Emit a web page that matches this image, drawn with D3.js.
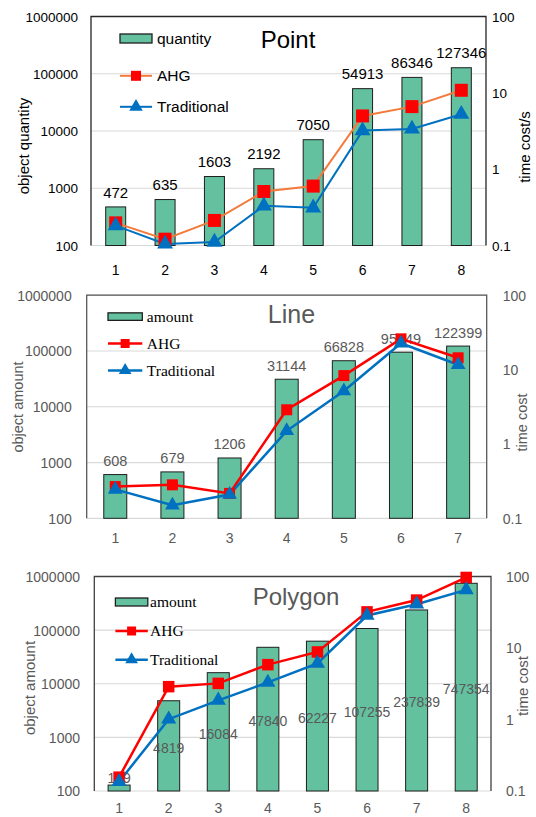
<!DOCTYPE html>
<html><head><meta charset="utf-8">
<script src="https://cdn.jsdelivr.net/npm/d3@7"></script>
<style>body{margin:0;background:#fff} svg{display:block}</style>
</head><body>
<svg id="c" width="536" height="817"></svg>
<script>
// ---- data ----
const pointCategories = ["1","2","3","4","5","6","7","8"];
const pointQuantity = [472,635,1603,2192,7050,54913,86346,127346];
const pointAHG = [0.198,0.121,0.213,0.51,0.6,4.98,6.6,10.8];
const pointTraditional = [0.182,0.105,0.111,0.331,0.312,3.2,3.36,5.25];

const lineCategories = ["1","2","3","4","5","6","7"];
const lineAmount = [608,679,1206,31144,66828,95049,122399];
const lineAHG = [0.267,0.282,0.216,2.88,8.3,25.9,14.4];
const lineTraditional = [0.245,0.15,0.209,1.5,5.15,22.6,11.6];

const polygonCategories = ["1","2","3","4","5","6","7","8"];
const polygonAmount = [129,4819,16084,47840,62227,107255,237839,747354];
const polygonAHG = [0.156,2.88,3.2,5.85,8.8,32,46.8,97];
const polygonTraditional = [0.135,1.01,1.85,3.3,6.1,28.5,41,65];

const leftTicks = [100,1000,10000,100000,1000000];
const rightTicks = [0.1,1,10,100];

const SANS = "'Liberation Sans', Arial, sans-serif";
const SERIF = "'Liberation Serif', 'Times New Roman', serif";
const BAR_FILL = "#63c19f", BAR_STROKE = "#1e1e1e";
const RED = "#ff0000", BLUE = "#0070c0";

const svg = d3.select("#c");

function panel(cfg) {
  const g = svg.append("g");
  const x = d3.scaleBand().domain(cfg.categories).range([cfg.left, cfg.right]);
  const yL = d3.scaleLog().domain([100, 1000000]).range([cfg.bottom, cfg.top]);
  const yR = d3.scaleLog().domain([0.1, 100]).range([cfg.bottom, cfg.top]);
  const cx = d => x(d) + x.bandwidth() / 2;

  // gridlines
  g.selectAll(".grid").data(leftTicks).join("line")
    .attr("x1", cfg.left).attr("x2", cfg.right)
    .attr("y1", d => yL(d)).attr("y2", d => yL(d))
    .attr("stroke", "#d9d9d9").attr("stroke-width", 1.2);
  // frame (left, top, right)
  g.append("path")
    .attr("d", `M${cfg.left},${cfg.bottom}V${cfg.top}H${cfg.right}V${cfg.bottom}`)
    .attr("fill", "none").attr("stroke", cfg.frame).attr("stroke-width", 1.3);

  // left axis labels
  const axL = d3.axisLeft(yL).tickValues(leftTicks).tickFormat(d3.format("d")).tickSize(0).tickPadding(0);
  const gl = g.append("g").attr("transform", `translate(${cfg.leftLabelX},0)`).call(axL);
  gl.select(".domain").remove();
  gl.selectAll("text").attr("fill", cfg.color).style("font", `${cfg.tickSize}px ${SANS}`).attr("dy", "0.35em");

  // right axis labels
  const axR = d3.axisRight(yR).tickValues(rightTicks).tickFormat(d => String(d)).tickSize(0).tickPadding(0);
  const gr = g.append("g").attr("transform", `translate(${cfg.rightLabelX},0)`).call(axR);
  gr.select(".domain").remove();
  gr.selectAll("text").attr("fill", cfg.color).style("font", `${cfg.tickSize}px ${SANS}`).attr("dy", "0.35em");

  // x labels
  const axX = d3.axisBottom(x).tickSize(0).tickPadding(0);
  const gx = g.append("g").attr("transform", `translate(0,${cfg.xLabelY})`).call(axX);
  gx.select(".domain").remove();
  gx.selectAll("text").attr("fill", cfg.color).style("font", `${cfg.xSize}px ${SANS}`).attr("dy", "0.35em");

  // axis titles
  g.append("text").text(cfg.leftTitle)
    .attr("transform", `translate(${cfg.leftTitleX},${cfg.leftTitleY}) rotate(-90)`)
    .attr("text-anchor", "middle").attr("dy", "0.35em")
    .attr("fill", cfg.color).style("font", `${cfg.titleAxisSize}px ${SANS}`);
  g.append("text").text(cfg.rightTitle)
    .attr("transform", `translate(${cfg.rightTitleX},${cfg.rightTitleY}) rotate(-90)`)
    .attr("text-anchor", "middle").attr("dy", "0.35em")
    .attr("fill", cfg.color).style("font", `${cfg.titleAxisSize}px ${SANS}`);

  // bars
  g.selectAll(".bar").data(cfg.bars).join("rect")
    .attr("x", (d, i) => cx(cfg.categories[i]) - cfg.barW / 2)
    .attr("width", cfg.barW)
    .attr("y", d => yL(d)).attr("height", d => cfg.bottom - yL(d))
    .attr("fill", BAR_FILL).attr("stroke", BAR_STROKE).attr("stroke-width", 1);

  // data labels
  g.selectAll(".lab").data(cfg.bars).join("text")
    .text(d => d)
    .attr("x", (d, i) => cx(cfg.categories[i]))
    .attr("y", d => cfg.labelMode === "above"
      ? yL(d) - cfg.labelGap
      : Math.min((yL(d) + yL(100)) / 2 + 2, cfg.bottom - 13))
    .attr("text-anchor", "middle").attr("dy", "0.35em")
    .attr("fill", cfg.color).style("font", `${cfg.labelSize}px ${SANS}`);

  // lines
  const lineGen = d3.line().x((d, i) => cx(cfg.categories[i])).y(d => yR(d));
  g.append("path").attr("d", lineGen(cfg.ahg)).attr("fill", "none")
    .attr("stroke", cfg.ahgLine).attr("stroke-width", cfg.lineW);
  g.append("path").attr("d", lineGen(cfg.trad)).attr("fill", "none")
    .attr("stroke", BLUE).attr("stroke-width", cfg.lineW);

  const sq = d3.symbol().type(d3.symbolSquare).size(cfg.sq * cfg.sq);
  const tri = d3.symbol().type(d3.symbolTriangle).size(cfg.tri);
  g.selectAll(".m1").data(cfg.ahg).join("path")
    .attr("d", sq).attr("fill", RED)
    .attr("transform", (d, i) => `translate(${cx(cfg.categories[i])},${yR(d)})`);
  g.selectAll(".m2").data(cfg.trad).join("path")
    .attr("d", tri).attr("fill", BLUE)
    .attr("transform", (d, i) => `translate(${cx(cfg.categories[i])},${yR(d)})`);

  // title
  g.append("text").text(cfg.title).attr("x", cfg.titleX).attr("y", cfg.titleY)
    .attr("text-anchor", "middle").attr("dy", "0.35em")
    .attr("fill", cfg.color).style("font", `${cfg.titleSize}px ${SANS}`);

  // legend
  const L = cfg.legend;
  g.append("rect").attr("x", L.x0).attr("y", L.rows[0] - L.swH / 2)
    .attr("width", L.x1 - L.x0).attr("height", L.swH)
    .attr("fill", BAR_FILL).attr("stroke", BAR_STROKE).attr("stroke-width", 1.3);
  [[cfg.ahgLine, RED, "sq"], [BLUE, BLUE, "tri"]].forEach((s, k) => {
    const yy = L.rows[k + 1];
    g.append("line").attr("x1", L.x0).attr("x2", L.x1).attr("y1", yy).attr("y2", yy)
      .attr("stroke", s[0]).attr("stroke-width", cfg.lineW);
    const sym = s[2] === "sq" ? d3.symbol().type(d3.symbolSquare).size(L.sq * L.sq)
                              : d3.symbol().type(d3.symbolTriangle).size(L.tri);
    g.append("path").attr("d", sym).attr("fill", s[1])
      .attr("transform", `translate(${(L.x0 + L.x1) / 2},${yy})`);
  });
  L.names.forEach((n, k) => {
    g.append("text").text(n).attr("x", L.tx).attr("y", L.rows[k])
      .attr("dy", "0.35em").attr("fill", cfg.legendColor)
      .style("font", `${L.size}px ${L.font}`);
  });
}

panel({
  categories: pointCategories, bars: pointQuantity, ahg: pointAHG, trad: pointTraditional,
  left: 91, right: 486, top: 16.5, bottom: 245.5,
  color: "#000", legendColor: "#000", frame: "#262626", ahgLine: "#f47a3c",
  tickSize: 13.5, xSize: 14, labelSize: 15, titleAxisSize: 15, titleSize: 24,
  leftLabelX: 78, rightLabelX: 492, xLabelY: 270,
  leftTitle: "object quantity", leftTitleX: 24, leftTitleY: 146,
  rightTitle: "time cost/s", rightTitleX: 525, rightTitleY: 147,
  barW: 20, labelMode: "above", labelGap: 14.5,
  lineW: 2, sq: 13, tri: 110,
  title: "Point", titleX: 288, titleY: 40,
  legend: { x0: 120, x1: 152, rows: [38.5, 75.8, 106.8], swH: 9, tx: 157,
            names: ["quantity", "AHG", "Traditional"], size: 15.5, font: SANS, sq: 10, tri: 80 }
});

panel({
  categories: lineCategories, bars: lineAmount, ahg: lineAHG, trad: lineTraditional,
  left: 86.7, right: 486.7, top: 295.2, bottom: 518.3,
  color: "#595959", legendColor: "#000", frame: "#595959", ahgLine: RED,
  tickSize: 14, xSize: 14, labelSize: 14.5, titleAxisSize: 14.5, titleSize: 25,
  leftLabelX: 71.7, rightLabelX: 502.7, xLabelY: 538.5,
  leftTitle: "object amount", leftTitleX: 18.3, leftTitleY: 407,
  rightTitle: "time cost", rightTitleX: 521.7, rightTitleY: 422.5,
  barW: 23, labelMode: "above", labelGap: 13.6,
  lineW: 2.5, sq: 11, tri: 95,
  title: "Line", titleX: 291.5, titleY: 314,
  legend: { x0: 108, x1: 142.3, rows: [316.6, 343.5, 370.4], swH: 7.5, tx: 146.8,
            names: ["amount", "AHG", "Traditional"], size: 15.5, font: SERIF, sq: 9, tri: 70 }
});

panel({
  categories: polygonCategories, bars: polygonAmount, ahg: polygonAHG, trad: polygonTraditional,
  left: 94.3, right: 491, top: 576.5, bottom: 791,
  color: "#595959", legendColor: "#000", frame: "#404040", ahgLine: RED,
  tickSize: 14, xSize: 14, labelSize: 14, titleAxisSize: 15, titleSize: 24,
  leftLabelX: 80, rightLabelX: 506, xLabelY: 808.5,
  leftTitle: "object amount", leftTitleX: 30, leftTitleY: 688,
  rightTitle: "time cost", rightTitleX: 523, rightTitleY: 686,
  barW: 22, labelMode: "center", labelGap: 0,
  lineW: 2.5, sq: 11.5, tri: 100,
  title: "Polygon", titleX: 296, titleY: 597,
  legend: { x0: 115.4, x1: 147.8, rows: [602, 631, 659.7], swH: 8, tx: 150,
            names: ["amount", "AHG", "Traditional"], size: 15.5, font: SERIF, sq: 9, tri: 70 }
});
</script>
</body></html>
